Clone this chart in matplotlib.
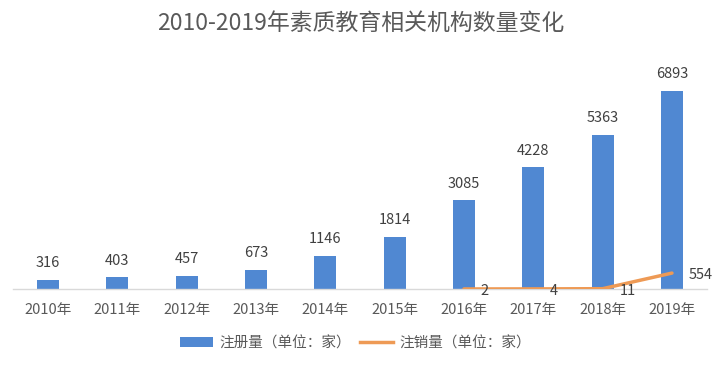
import matplotlib
matplotlib.use("Agg")
import matplotlib.pyplot as plt
from matplotlib.lines import Line2D
from matplotlib.patches import Patch

plt.rcParams['font.family'] = ['Noto Sans CJK SC', 'DejaVu Sans']

years = ["2010年", "2011年", "2012年", "2013年", "2014年", "2015年", "2016年", "2017年", "2018年", "2019年"]
registered = [316, 403, 457, 673, 1146, 1814, 3085, 4228, 5363, 6893]
cancel_years_idx = [6, 7, 8, 9]
cancelled = [2, 4, 11, 554]

title = "2010-2019年素质教育相关机构数量变化"
bar_label = "注册量（单位：家）"
line_label = "注销量（单位：家）"

bar_color = "#5088D2"
line_color = "#EE9A55"
text_color = "#404040"
tick_color = "#595959"

fig = plt.figure(figsize=(7.22, 3.67), dpi=100)
ax = fig.add_axes([0.0184, 0.2125, 0.9603, 0.6267])

x = list(range(len(years)))
ax.bar(x, registered, width=0.32, color=bar_color, zorder=2)
for xi, v in zip(x, registered):
    ax.annotate(str(v), (xi, v), xytext=(0, 7), textcoords="offset points",
                ha="center", va="bottom", fontsize=10.5, color=text_color)

ax.plot(cancel_years_idx, cancelled, color=line_color, lw=2.5, zorder=3,
        solid_capstyle="round")
for xi, v in zip(cancel_years_idx, cancelled):
    ax.annotate(str(v), (xi, v), xytext=(12, -1.5), textcoords="offset points",
                ha="left", va="center", fontsize=10.5, color=text_color)

ax.set_xlim(-0.5, len(years) - 0.5)
ax.set_ylim(0, 8000)
ax.set_xticks(x)
ax.set_xticklabels(years, fontsize=10.5, color=tick_color)
ax.tick_params(axis="x", length=0, pad=10)
ax.set_yticks([])
for s in ["top", "right", "left"]:
    ax.spines[s].set_visible(False)
ax.spines["bottom"].set_color("#D9D9D9")
ax.spines["bottom"].set_linewidth(1)

fig.text(0.5, 0.937, title, ha="center", va="center", fontsize=16.5, color="#595959")

handles = [Patch(facecolor=bar_color, edgecolor="none"),
           Line2D([0], [0], color=line_color, lw=2.5)]
fig.legend(handles, [bar_label, line_label], loc="center", bbox_to_anchor=(0.492, 0.065),
           ncol=2, frameon=False, fontsize=10.5, labelcolor=tick_color,
           handlelength=2.3, handleheight=0.6, columnspacing=0.6, handletextpad=0.4)

fig.savefig("out.png", dpi=100, facecolor="white")
